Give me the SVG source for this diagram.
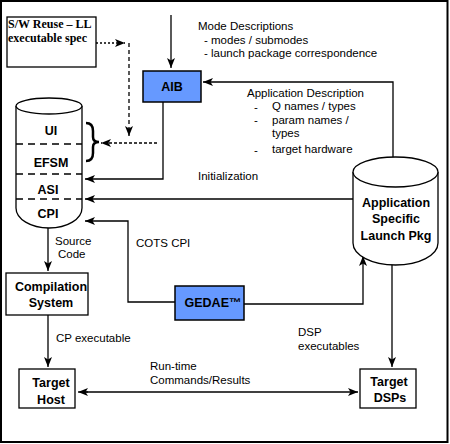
<svg xmlns="http://www.w3.org/2000/svg" width="450" height="444" viewBox="0 0 450 444">
<defs>
<marker id="ah" markerUnits="userSpaceOnUse" markerWidth="11" markerHeight="8" refX="10" refY="4" orient="auto">
<path d="M0,0 L10,4 L0,8 L2.5,4 z" fill="#000"/>
</marker>
<style>
.ln{fill:none;stroke:#000;stroke-width:1.3}
.box{fill:#fff;stroke:#000;stroke-width:1.3}
.blue{fill:#6699FF;stroke:#000;stroke-width:1.5}
.t{font-family:"Liberation Sans",Arial,sans-serif;font-size:11.5px;fill:#000}
.b{font-family:"Liberation Sans",Arial,sans-serif;font-size:12.5px;font-weight:bold;fill:#000;text-anchor:middle}
.s{font-family:"Liberation Serif","Times New Roman",serif;font-size:12px;font-weight:bold;fill:#000}
.dash{stroke-dasharray:7,5}
</style>
</defs>
<rect x="1" y="1" width="446.5" height="441" fill="#fff" stroke="#000" stroke-width="2"/>

<g id="connectors">
<path class="ln" d="M96,43 H125" stroke-dasharray="2,2" marker-end="url(#ah)"/>
<path class="ln" d="M129,43 V136" stroke-dasharray="4,3" marker-end="url(#ah)"/>
<path class="ln" d="M157,143 H101" stroke-dasharray="3,2" marker-end="url(#ah)"/>
<path class="ln" d="M171,15 V68" marker-end="url(#ah)"/>
<path class="ln" d="M393,166 V82 H203" marker-end="url(#ah)"/>
<path class="ln" d="M163,102 V179 H85" marker-end="url(#ah)"/>
<path class="ln" d="M353,199 H85" marker-end="url(#ah)"/>
<path class="ln" d="M175,302 H128 V221 H85" marker-end="url(#ah)"/>
<path class="ln" d="M244,304 H363 V256" marker-end="url(#ah)"/>
<path class="ln" d="M48,228 V271" marker-end="url(#ah)"/>
<path class="ln" d="M48,315 V367" marker-end="url(#ah)"/>
<path class="ln" d="M392,258 V367" marker-end="url(#ah)"/>
<path class="ln" d="M80,392 H358" marker-end="url(#ah)"/>
<path class="ln" d="M88,392 H78" marker-end="url(#ah)"/>
<path d="M86,123 C91,123 93,126 93,131 L93,137 C93,140 95,142 99,142 C95,142 93,144 93,147 L93,153 C93,158 91,161 86,161" fill="none" stroke="#000" stroke-width="2.5"/>
</g>

<g id="labels">
<text class="t" x="198" y="30">Mode Descriptions</text>
<text class="t" x="204" y="44">- modes / submodes</text>
<text class="t" x="204" y="57">- launch package correspondence</text>
<text class="t" x="247" y="97">Application Description</text>
<text class="t" x="254" y="111">-</text>
<text class="t" x="272" y="110">Q names / types</text>
<text class="t" x="254" y="124">-</text>
<text class="t" x="272" y="123.5">param names /</text>
<text class="t" x="272" y="137">types</text>
<text class="t" x="254" y="154">-</text>
<text class="t" x="272" y="153">target hardware</text>
<text class="t" x="198" y="180">Initialization</text>
<text class="t" x="55" y="245">Source</text>
<text class="t" x="58" y="258">Code</text>
<text class="t" x="136" y="247">COTS CPI</text>
<text class="t" x="56" y="342">CP executable</text>
<text class="t" x="298" y="336">DSP</text>
<text class="t" x="298" y="350">executables</text>
<text class="t" x="150" y="370">Run-time</text>
<text class="t" x="150" y="384">Commands/Results</text>
</g>

<g id="swreuse">
<rect class="box" x="7" y="17" width="89" height="50"/>
<text class="s" x="8" y="28">S/W Reuse – LL</text>
<text class="s" x="8" y="42">executable spec</text>
</g>

<g id="aib">
<rect class="blue" x="143" y="71" width="58" height="31"/>
<text class="b" x="172" y="91">AIB</text>
</g>

<g id="lcyl">
<path class="box" d="M16,106 V208 A33,20 0 0 0 82,208 V106"/>
<ellipse class="box" cx="49" cy="106" rx="33" ry="8"/>
<path class="ln dash" d="M16,144 H82 M16,174 H82 M16,199 H82"/>
<text class="b" x="51" y="135">UI</text>
<text class="b" x="51" y="167">EFSM</text>
<text class="b" x="48" y="194">ASI</text>
<text class="b" x="48" y="218">CPI</text>
</g>

<g id="rcyl">
<path class="box" d="M353,172 V243 A42.5,22 0 0 0 438,243 V172"/>
<ellipse class="box" cx="395.5" cy="172" rx="42.5" ry="15"/>
<text class="b" x="396" y="207">Application</text>
<text class="b" x="396" y="223">Specific</text>
<text class="b" x="396" y="240">Launch Pkg</text>
</g>

<g id="compilation">
<rect class="box" x="6" y="273" width="82" height="42"/>
<text class="b" x="51" y="291">Compilation</text>
<text class="b" x="51" y="307">System</text>
</g>

<g id="gedae">
<rect class="blue" x="175" y="286" width="69" height="34"/>
<text class="b" x="213" y="307">GEDAE™</text>
</g>

<g id="targethost">
<rect class="box" x="19" y="369" width="56" height="39"/>
<text class="b" x="51" y="387">Target</text>
<text class="b" x="51" y="404">Host</text>
</g>

<g id="targetdsps">
<rect class="box" x="360" y="369" width="56" height="39"/>
<text class="b" x="389" y="386">Target</text>
<text class="b" x="390" y="402">DSPs</text>
</g>
</svg>
